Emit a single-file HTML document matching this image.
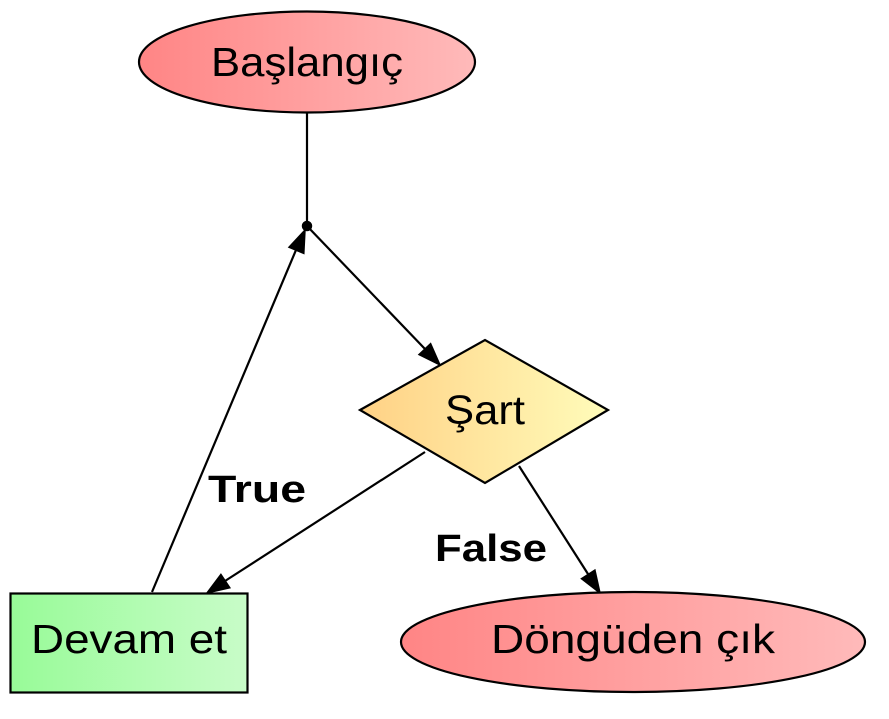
<!DOCTYPE html>
<html><head><meta charset="utf-8"><style>html,body{margin:0;padding:0;background:#fff}svg{display:block}</style></head>
<body>
<svg width="889" height="719" viewBox="0 0 889 719" xmlns="http://www.w3.org/2000/svg">
<defs>
<linearGradient id="red" x1="0" x2="1" y1="0" y2="0"><stop offset="0" stop-color="#ff8585"/><stop offset="1" stop-color="#ffbaba"/></linearGradient>
<linearGradient id="yel" x1="0" x2="1" y1="0" y2="0"><stop offset="0" stop-color="#ffd185"/><stop offset="1" stop-color="#fffcba"/></linearGradient>
<linearGradient id="grn" x1="0" x2="1" y1="0" y2="0"><stop offset="0" stop-color="#98fb98"/><stop offset="1" stop-color="#c8fcc8"/></linearGradient>
</defs>
<g stroke="#000" stroke-width="2.2" fill="none">
<line x1="307" y1="113" x2="307" y2="226"/>
<line x1="307" y1="226" x2="425" y2="349"/>
<line x1="425" y1="452" x2="225" y2="581"/>
<line x1="152" y1="592" x2="296" y2="250"/>
<line x1="519" y1="466" x2="588" y2="574"/>
</g>
<g fill="#000" stroke="#000" stroke-width="1.5">
<circle cx="307" cy="226" r="4.5"/>
<polygon points="440,365 419,354.6 430.6,343.6"/>
<polygon points="207,593 220.9,574.4 229.8,587.8"/>
<polygon points="305,230 303.8,253.4 289,247.2"/>
<polygon points="600,593 581.5,578.7 594.9,570.1"/>
</g>
<ellipse cx="307" cy="62" rx="168" ry="50.5" fill="url(#red)" stroke="#000" stroke-width="2.2"/>
<polygon points="360,410 485,340 608,410 485,483" fill="url(#yel)" stroke="#000" stroke-width="2.2"/>
<rect x="10.5" y="593.5" width="237" height="99" fill="url(#grn)" stroke="#000" stroke-width="2.2"/>
<ellipse cx="633" cy="642" rx="232" ry="50" fill="url(#red)" stroke="#000" stroke-width="2.2"/>
<g font-family="'Liberation Sans',sans-serif" font-size="41" text-anchor="middle" fill="#000">
<text x="307" y="76" textLength="192" lengthAdjust="spacingAndGlyphs">Başlangıç</text>
<text x="485" y="424" textLength="80" lengthAdjust="spacingAndGlyphs">Şart</text>
<text x="129" y="653" textLength="196" lengthAdjust="spacingAndGlyphs">Devam et</text>
<text x="633" y="653" textLength="284" lengthAdjust="spacingAndGlyphs">Döngüden çık</text>
<g font-weight="bold" font-size="38">
<text x="257" y="502" textLength="98" lengthAdjust="spacingAndGlyphs">True</text>
<text x="491" y="561" textLength="112" lengthAdjust="spacingAndGlyphs">False</text>
</g>
</g>
</svg>
</body></html>
